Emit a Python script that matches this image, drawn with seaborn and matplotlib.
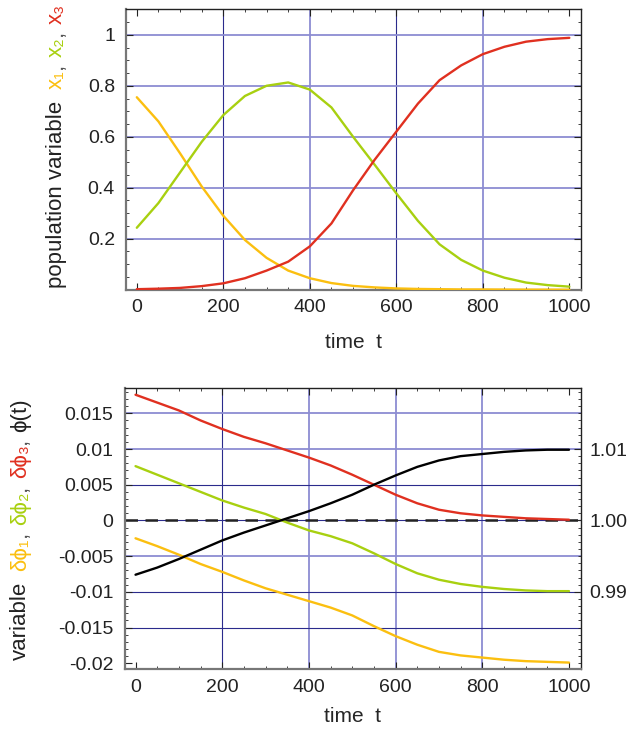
import matplotlib
matplotlib.use('Agg')
import numpy as np
import pandas as pd
import matplotlib.pyplot as plt
import seaborn as sns
from matplotlib.ticker import MultipleLocator, FixedLocator

# --- datos ---
t = [0, 50, 100, 150, 200, 250, 300, 350, 400, 450, 500,
     550, 600, 650, 700, 750, 800, 850, 900, 950, 1000]

x1 = [0.755, 0.66, 0.535, 0.405, 0.29, 0.195, 0.125, 0.075, 0.045, 0.026, 0.015,
      0.009, 0.005, 0.003, 0.002, 0.001, 0.001, 0.0005, 0.0003, 0.0002, 0.0001]
x2 = [0.243, 0.34, 0.46, 0.58, 0.685, 0.76, 0.80, 0.813, 0.785, 0.715, 0.60,
      0.49, 0.378, 0.27, 0.178, 0.117, 0.075, 0.047, 0.028, 0.018, 0.012]
x3 = [0.002, 0.004, 0.007, 0.014, 0.025, 0.045, 0.075, 0.11, 0.17, 0.26, 0.39,
      0.51, 0.62, 0.73, 0.822, 0.88, 0.924, 0.953, 0.973, 0.983, 0.988]

dphi1 = [-0.0025, -0.0036, -0.0048, -0.0061, -0.0072, -0.0084, -0.0095, -0.0104, -0.0113, -0.0122, -0.0133,
         -0.0148, -0.0162, -0.0174, -0.0184, -0.0189, -0.0192, -0.0195, -0.0197, -0.0198, -0.0199]
dphi2 = [0.0076, 0.0064, 0.0052, 0.0040, 0.0028, 0.0018, 0.0009, -0.0003, -0.0014, -0.0022, -0.0032,
         -0.0046, -0.0061, -0.0074, -0.0083, -0.0089, -0.0093, -0.0096, -0.0098, -0.0099, -0.0099]
dphi3 = [0.0176, 0.0165, 0.0154, 0.0140, 0.0128, 0.0117, 0.0108, 0.0098, 0.0088, 0.0077, 0.0064,
         0.0050, 0.0036, 0.0024, 0.0015, 0.0010, 0.0007, 0.0005, 0.0003, 0.0002, 0.0001]
phi = [0.9924, 0.9934, 0.9946, 0.9959, 0.9972, 0.9983, 0.9993, 1.0003, 1.0013, 1.0024, 1.0036,
       1.0050, 1.0063, 1.0075, 1.0084, 1.0090, 1.0093, 1.0096, 1.0098, 1.0099, 1.0099]

top_yticks = [0.2, 0.4, 0.6, 0.8, 1.0]
top_ylabels = ['0.2', '0.4', '0.6', '0.8', '1']
bot_yticks = [0.015, 0.01, 0.005, 0, -0.005, -0.01, -0.015, -0.02]
bot_ylabels = ['0.015', '0.01', '0.005', '0', '-0.005', '-0.01', '-0.015', '-0.02']
phi_ticks = [0.99, 1.00, 1.01]
phi_labels = ['0.99', '1.00', '1.01']
xticks = [0, 200, 400, 600, 800, 1000]

c1, c2, c3 = '#fbbf10', '#a8d010', '#e03020'
grid_c, grid_dark = '#8c8cd2', '#2b2b8c'

sns.set_style('ticks', {'xtick.direction': 'in', 'ytick.direction': 'in'})
plt.rcParams['font.family'] = ['Liberation Sans', 'DejaVu Sans']
plt.rcParams['font.size'] = 14

W, H = 630, 732
fig = plt.figure(figsize=(W / 100, H / 100), dpi=100)
ax1 = fig.add_axes([126 / W, (H - 289.7) / H, 455 / W, 280.4 / H])
ax2 = fig.add_axes([124.7 / W, (H - 669) / H, 456 / W, 280.7 / H])


def style_axes(ax):
    ax.set_xlim(-25, 1027)
    ax.set_xticks(xticks)
    ax.xaxis.set_minor_locator(MultipleLocator(50))
    ax.tick_params(which='both', direction='in', top=True, right=True, colors='#222222')
    ax.tick_params(which='major', length=5, width=0.8, labelsize=14, pad=7)
    ax.tick_params(which='minor', length=2.5, width=0.6)
    ax.tick_params(axis='y', which='major', pad=8)
    for s in ['left', 'bottom']:
        ax.spines[s].set_color('#777777')
        ax.spines[s].set_linewidth(1.6)
    for s in ['top', 'right']:
        ax.spines[s].set_color('#222222')
        ax.spines[s].set_linewidth(1.0)


# --- panel superior ---
df_top = pd.DataFrame({'t': t * 3, 'valor': x1 + x2 + x3,
                       'var': ['x1'] * len(t) + ['x2'] * len(t) + ['x3'] * len(t)})
for v in [200, 400, 600, 800]:
    dark = v in (200, 600)
    ax1.axvline(v, color=grid_dark if dark else grid_c, lw=0.8 if dark else 1.3, zorder=0)
for v in top_yticks:
    ax1.axhline(v, color=grid_c, lw=1.3, zorder=0)
sns.lineplot(data=df_top, x='t', y='valor', hue='var', palette=[c1, c2, c3],
             linewidth=1.7, legend=False, ax=ax1, zorder=3)
style_axes(ax1)
ax1.set_ylim(0, 1.1)
ax1.set_yticks(top_yticks)
ax1.set_yticklabels(top_ylabels)
ax1.yaxis.set_minor_locator(MultipleLocator(0.05))
ax1.set_xlabel('time  t', fontsize=15, labelpad=12)
ax1.set_ylabel('')

# --- panel inferior ---
df_bot = pd.DataFrame({'t': t * 3, 'valor': dphi1 + dphi2 + dphi3,
                       'var': ['d1'] * len(t) + ['d2'] * len(t) + ['d3'] * len(t)})
for v in [200, 400, 600, 800]:
    dark = v == 200
    ax2.axvline(v, color=grid_dark if dark else grid_c, lw=0.8 if dark else 1.3, zorder=0)
for v in bot_yticks[:-1]:
    dark = v in (0.005, 0, -0.01, -0.015)
    ax2.axhline(v, color=grid_dark if dark else grid_c, lw=0.8 if dark else 1.3, zorder=0)
ax2.axhline(0, color='#222222', lw=1.8, ls=(0, (5, 3)), zorder=2)
sns.lineplot(data=df_bot, x='t', y='valor', hue='var', palette=[c1, c2, c3],
             linewidth=1.7, legend=False, ax=ax2, zorder=3)
style_axes(ax2)
ylo, yhi = -0.0208, 0.0185
ax2.set_ylim(ylo, yhi)
ax2.set_yticks(bot_yticks)
ax2.set_yticklabels(bot_ylabels)
ax2.yaxis.set_minor_locator(MultipleLocator(0.001))
ax2.tick_params(right=False, which='both')
ax2.set_xlabel('time  t', fontsize=15, labelpad=8)
ax2.set_ylabel('')

ax3 = ax2.twinx()
ax3.set_position(ax2.get_position())
sns.lineplot(x=t, y=phi, color='black', linewidth=1.7, ax=ax3, zorder=4)
ax3.set_ylim(1 + ylo, 1 + yhi)
ax3.set_yticks(phi_ticks)
ax3.set_yticklabels(phi_labels)
ax3.yaxis.set_minor_locator(MultipleLocator(0.001))
ax3.tick_params(which='both', direction='in', colors='#222222')
ax3.tick_params(which='major', length=5, width=0.8, labelsize=14, pad=6)
ax3.tick_params(which='minor', length=2.5, width=0.6)
ax3.set_ylabel('')
for s in ax3.spines.values():
    s.set_visible(False)


# --- etiquetas verticales de varios colores ---
def vlabel(x_px, y_px, parts, size=16):
    r = fig.canvas.get_renderer()
    y = y_px
    for s, c, gap in parts:
        tx = fig.text(x_px / W, y / H, s, color=c, rotation=90, rotation_mode='anchor',
                      ha='left', va='baseline', fontsize=size)
        bb = tx.get_window_extent(renderer=r)
        y += bb.height + gap


vlabel(62, H - 288, [('population variable', '#222222', 12),
                     ('x\u2081', c1, 1), (',', '#555555', 6),
                     ('x\u2082', c2, 1), (',', '#555555', 6),
                     ('x\u2083', c3, 0)])
vlabel(26, H - 660, [('variable', '#222222', 11),
                     ('\u03b4\u03d5\u2081', c1, 1), (',', '#555555', 6),
                     ('\u03b4\u03d5\u2082', c2, 1), (',', '#555555', 6),
                     ('\u03b4\u03d5\u2083', c3, 1), (',', '#555555', 6),
                     ('\u03d5(t)', '#222222', 0)])

fig.savefig('out.png', dpi=100)
